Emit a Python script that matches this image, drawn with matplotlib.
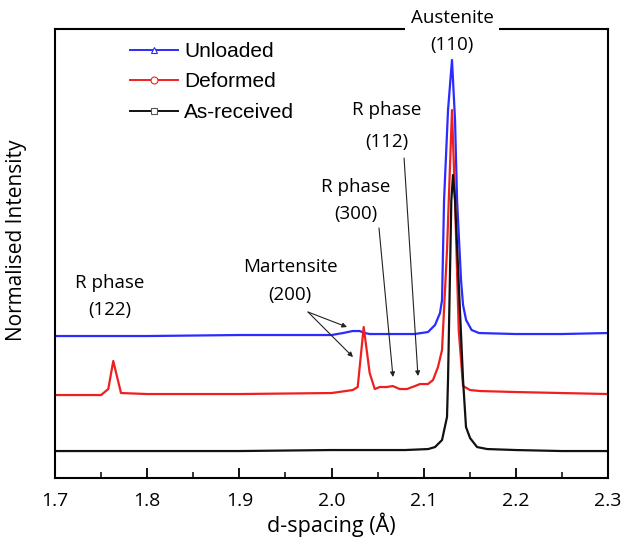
import matplotlib
matplotlib.use('Agg')
import matplotlib.pyplot as plt
from matplotlib.lines import Line2D
from matplotlib.ticker import MultipleLocator
import numpy as np

# d-spacing (A) and offset normalised intensity for each pattern
d_received = [1.70, 1.80, 1.90, 2.00, 2.08, 2.105, 2.1123, 2.1199, 2.1253, 2.1264,
              2.1300, 2.1318, 2.1340, 2.1427, 2.1459, 2.1503, 2.1579, 2.1688,
              2.20, 2.25, 2.30]
i_received = [27, 27, 27, 28, 28, 29, 31, 38, 61, 98,
              278, 303, 278, 98, 51, 40, 31, 29,
              28, 27, 27]

d_deformed = [1.70, 1.75, 1.7578, 1.7632, 1.7716, 1.80, 1.90, 2.00, 2.0230, 2.0284,
              2.0349, 2.0414, 2.0469, 2.0523, 2.0599, 2.0664, 2.0740, 2.0819, 2.0906,
              2.0960, 2.1047, 2.1101, 2.1155, 2.1199, 2.1253, 2.1307, 2.1340, 2.1380,
              2.1427, 2.1503, 2.1612, 2.20, 2.25, 2.30]
i_deformed = [83, 83, 89, 117, 85, 84, 84, 85, 88, 91,
              151, 105, 89, 91, 91, 92, 89, 89, 92,
              94, 94, 98, 111, 128, 228, 368, 278, 148,
              92, 88, 87, 86, 85, 84]

d_unloaded = [1.70, 1.80, 1.90, 2.00, 2.0125, 2.0230, 2.0306, 2.0360, 2.0414, 2.0523,
              2.09, 2.1047, 2.1123, 2.1177, 2.1199, 2.1221, 2.1264, 2.1307, 2.1340,
              2.1362, 2.1405, 2.1427, 2.146, 2.152, 2.16, 2.20, 2.25, 2.30]
i_unloaded = [142, 142, 143, 143, 145, 147, 147, 145, 144, 144,
              144, 146, 153, 165, 178, 278, 368, 418, 358,
              278, 198, 173, 158, 148, 145, 144, 144, 145]

labels = ['Unloaded', 'Deformed', 'As-received']
colors = ['#2b2bff', '#f01f1f', '#111111']
markers = ['^', 'o', 's']

ann_font = 'Open Sans'

fig = plt.figure(figsize=(6.28, 5.42), dpi=100)
ax = fig.add_axes([0.0876, 0.118, 0.8806, 0.8285])

ax.plot(d_unloaded, i_unloaded, color=colors[0], lw=1.6)
ax.plot(d_deformed, i_deformed, color=colors[1], lw=1.6)
ax.plot(d_received, i_received, color=colors[2], lw=1.6)

ax.set_xlim(1.7, 2.3)
ax.set_ylim(0, 449)
ax.xaxis.set_major_locator(MultipleLocator(0.1))
ax.xaxis.set_minor_locator(MultipleLocator(0.05))
ax.tick_params(axis='x', which='major', direction='in', length=7, width=1.3,
               labelsize=14, pad=10)
ax.tick_params(axis='x', which='minor', direction='in', length=4, width=1.1)
ax.set_yticks([])
for lab in ax.get_xticklabels():
    lab.set_fontfamily(ann_font)
for s in ax.spines.values():
    s.set_linewidth(1.5)

ax.set_xlabel('d-spacing (Å)', fontsize=15.5, family=ann_font)
ax.xaxis.set_label_coords(0.5, -0.076)
ax.set_ylabel('Normalised Intensity', fontsize=15, family=ann_font)
ax.yaxis.set_label_coords(-0.05, 0.53)

# legend
handles = [Line2D([], [], color=c, lw=1.4, marker=m, markersize=5,
                  markerfacecolor='white', markeredgecolor=c if c != '#111111' else '#555555',
                  markeredgewidth=0.8)
           for c, m in zip(colors, markers)]
ax.legend(handles, labels, loc='upper left', bbox_to_anchor=(0.102, 1.013),
          frameon=False, handlelength=2.3, handletextpad=0.3,
          labelspacing=0.55, numpoints=1, prop={'family': 'Liberation Sans', 'size': 15})

# annotations
tkw = dict(fontsize=13.5, family=ann_font, ha='center', va='center')
ax.text(2.1307, 460, 'Austenite', clip_on=False, zorder=5,
        bbox=dict(facecolor='white', edgecolor='none', pad=4), **tkw)
ax.text(2.1307, 433, '(110)', **tkw)
ax.text(2.0602, 368, 'R phase', **tkw)
ax.text(2.0602, 336, '(112)', **tkw)
ax.text(2.0266, 291, 'R phase', **tkw)
ax.text(2.0266, 264, '(300)', **tkw)
ax.text(1.9553, 211, 'Martensite', **tkw)
ax.text(1.9553, 183, '(200)', **tkw)
ax.text(1.7597, 195, 'R phase', **tkw)
ax.text(1.7597, 168, '(122)', **tkw)

akw = dict(arrowstyle='-|>', lw=0.8, color='#222222', mutation_scale=7, shrinkA=0, shrinkB=0)
ax.annotate('', xy=(2.0667, 101), xytext=(2.0515, 250), arrowprops=akw)
ax.annotate('', xy=(2.0938, 102), xytext=(2.0787, 320), arrowprops=akw)
ax.annotate('', xy=(2.0168, 151), xytext=(1.9745, 166), arrowprops=akw)
ax.annotate('', xy=(2.0233, 121), xytext=(1.9745, 166), arrowprops=akw)

fig.savefig('out.png', dpi=100)
